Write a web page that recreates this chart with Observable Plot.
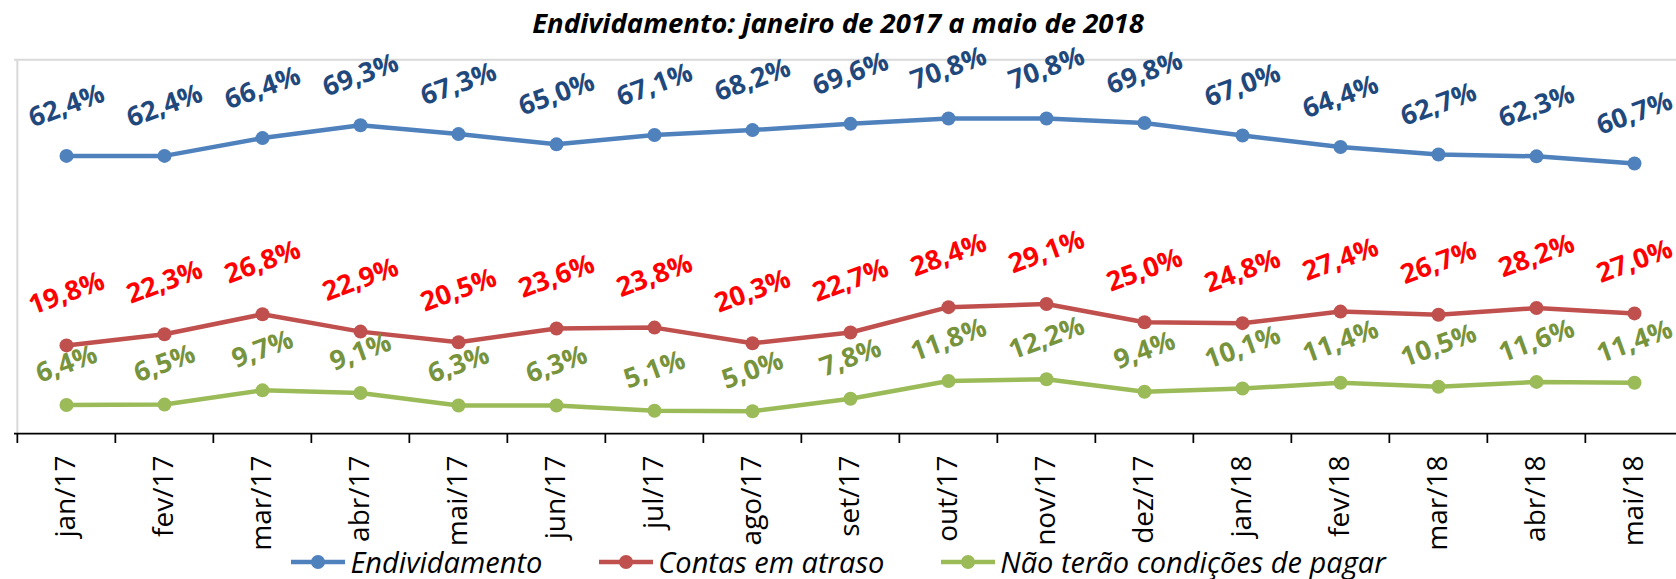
<!DOCTYPE html>
<html><head><meta charset="utf-8">
<script src="https://cdn.jsdelivr.net/npm/d3@7"></script>
<script src="https://cdn.jsdelivr.net/npm/@observablehq/plot@0.6"></script>
<style>
html,body{margin:0;padding:0;background:#fff;}
body{width:1676px;height:579px;position:relative;overflow:hidden;font-family:"Open Sans",sans-serif;}
#title{position:absolute;top:4px;left:0;width:1676px;text-align:center;font-weight:700;font-style:italic;font-size:27.5px;line-height:normal;color:#000;white-space:nowrap;}
#chart{position:absolute;top:40px;left:0;}
#legend{position:absolute;top:542px;left:0;width:1676px;display:flex;justify-content:center;align-items:center;font-style:italic;font-size:29px;line-height:normal;color:#000;white-space:nowrap;}
.item{display:flex;align-items:center;}
.item svg{margin-right:4px;}
.item + .item{margin-left:56px;}
</style></head><body>
<div id="title">Endividamento: janeiro de 2017 a maio de 2018</div>
<div id="chart"></div>
<div id="legend"></div>
<script>
const months = ["jan/17","fev/17","mar/17","abr/17","mai/17","jun/17","jul/17","ago/17","set/17","out/17","nov/17","dez/17","jan/18","fev/18","mar/18","abr/18","mai/18"];
const endividamento = [62.4,62.4,66.4,69.3,67.3,65.0,67.1,68.2,69.6,70.8,70.8,69.8,67.0,64.4,62.7,62.3,60.7];
const contasAtraso = [19.8,22.3,26.8,22.9,20.5,23.6,23.8,20.3,22.7,28.4,29.1,25.0,24.8,27.4,26.7,28.2,27.0];
const naoPagar = [6.4,6.5,9.7,9.1,6.3,6.3,5.1,5.0,7.8,11.8,12.2,9.4,10.1,11.4,10.5,11.6,11.4];
const seriesNames = ["Endividamento","Contas em atraso","Não terão condições de pagar"];

const lineColors = ["#4F81BD","#C0504D","#9BBB59"];
const labelColors = ["#1F497D","#FF0000","#77933C"];
const labelOffsets = [-50,-52,-41];

const W = 1676, H = 510;
const step = 98.3, x0 = 14;
const yTop = 19.3, yBottom = 393;
const yMax = 84;
const pxPerUnit = (yBottom - yTop) / yMax;

const seriesValues = [endividamento, contasAtraso, naoPagar];
const tables = seriesValues.map((vals, s) => months.map((m, i) => ({month: m, value: vals[i], series: seriesNames[s]})));
const fmt = v => d3.format(".1f")(v).replace(".", ",") + "%";

const marks = [
  Plot.ruleY([yMax], {y: d => d, stroke: "#D9D9D9", strokeWidth: 2}),
  Plot.ruleX([months[0]], {x: d => d, y1: () => 0, y2: () => yMax, dx: -step / 2, stroke: "#D9D9D9", strokeWidth: 2}),
  Plot.ruleY([0], {y: d => d, stroke: "#000", strokeWidth: 1.75}),
  Plot.ruleX(months, {x: d => d, y1: () => 0, y2: () => -10 / pxPerUnit, dx: -step / 2, stroke: "#000", strokeWidth: 1.75}),
  Plot.axisX({tickSize: 0, tickRotate: -90, tickPadding: 22, fontSize: 28, fill: "#000", textAnchor: "end", label: null})
];
tables.forEach((t, s) => {
  marks.push(Plot.line(t, {x: "month", y: "value", stroke: lineColors[s], strokeWidth: 4.5}));
});
tables.forEach((t, s) => {
  marks.push(Plot.dot(t, {x: "month", y: "value", r: 7, fill: lineColors[s], stroke: "none"}));
});
tables.forEach((t, s) => {
  marks.push(Plot.text(t, {x: "month", y: "value", text: d => fmt(d.value), rotate: -20, dy: labelOffsets[s],
    fill: labelColors[s], fontSize: 27, fontWeight: 700, textAnchor: "middle", lineAnchor: "middle"}));
});

const chart = Plot.plot({
  width: W, height: H,
  marginLeft: x0, marginRight: 0, marginTop: yTop, marginBottom: H - yBottom,
  x: {type: "point", domain: months, range: [x0, x0 + step * months.length], padding: 0.5, label: null},
  y: {domain: [0, yMax], axis: null},
  style: {background: "transparent", overflow: "visible", fontFamily: "Open Sans"},
  marks
});
document.getElementById("chart").appendChild(chart);

const legend = document.getElementById("legend");
seriesNames.forEach((name, s) => {
  const item = document.createElement("span");
  item.className = "item";
  item.innerHTML = `<svg width="56" height="20"><line x1="1" y1="10" x2="55" y2="10" stroke="${lineColors[s]}" stroke-width="4.5"/><circle cx="28" cy="10" r="7" fill="${lineColors[s]}"/></svg><span>${name}</span>`;
  legend.appendChild(item);
});
</script>
</body></html>
